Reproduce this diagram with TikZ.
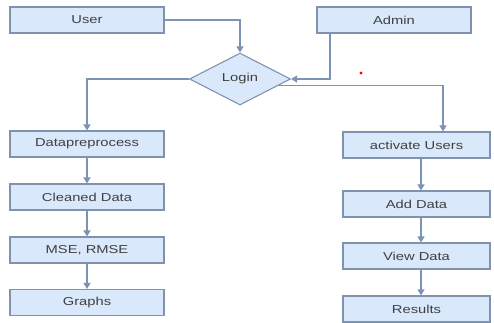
\documentclass[tikz,border=0pt]{standalone}
\usepackage{fontspec}
\setmainfont{Liberation Sans}[FakeStretch=1.28]
\usetikzlibrary{arrows.meta,shapes.geometric}
\definecolor{boxfill}{HTML}{DAE8FC}
\definecolor{boxline}{HTML}{7F93AE}
\definecolor{arrowc}{HTML}{7C93B3}
\begin{document}
\begin{tikzpicture}[x=1pt,y=-1pt,
  every node/.style={font=\fontsize{11.5}{13}\selectfont, text=black!75},
  box/.style={draw=boxline, fill=boxfill, line width=1.1pt, minimum height=26pt, inner sep=0pt},
  lbox/.style={box, minimum width=154pt},
  rbox/.style={box, minimum width=147pt},
  dia/.style={diamond, draw=boxline, fill=boxfill, line width=1.1pt, minimum width=101pt, minimum height=52pt, inner sep=0pt, aspect=1.94},
  conn/.style={draw=arrowc, line width=1.3pt, -{Triangle[length=6pt,width=7pt]}}
]
\useasboundingbox (0,0) rectangle (494,322);
\fill[white] (0,0) rectangle (494,322);
\node[lbox] (user) at (87,20) {User};
\node[lbox] (admin) at (394,20) {Admin};
\node[dia] (login) at (240,79) {Login};
\node[lbox] (dp) at (87,144) {Datapreprocess};
\node[lbox] (cd) at (87,197) {Cleaned Data};
\node[lbox] (mse) at (87,250) {MSE, RMSE};
\node[lbox] (gr) at (87,302.5) {Graphs};
\node[rbox] (au) at (416.5,145) {activate Users};
\node[rbox] (ad) at (416.5,204) {Add Data};
\node[rbox] (vd) at (416.5,256) {View Data};
\node[rbox] (res) at (416.5,309) {Results};
\coordinate (lr) at (279,85.5);
\fill[red] (361,73) circle (1.6pt);
\draw[conn] (user.east) -| (login.north);
\draw[conn] (admin.south -| 330,0) |- (login.east);
\draw[conn] (login.west) -| (dp.north);
\draw[conn] (lr) -| (au.north -| 443,0);
\draw[conn] (dp) -- (cd);
\draw[conn] (cd) -- (mse);
\draw[conn] (mse) -- (gr);
\draw[conn] (au.south -| 421,0) -- (ad.north -| 421,0);
\draw[conn] (ad.south -| 421,0) -- (vd.north -| 421,0);
\draw[conn] (vd.south -| 421,0) -- (res.north -| 421,0);
\end{tikzpicture}
\end{document}
